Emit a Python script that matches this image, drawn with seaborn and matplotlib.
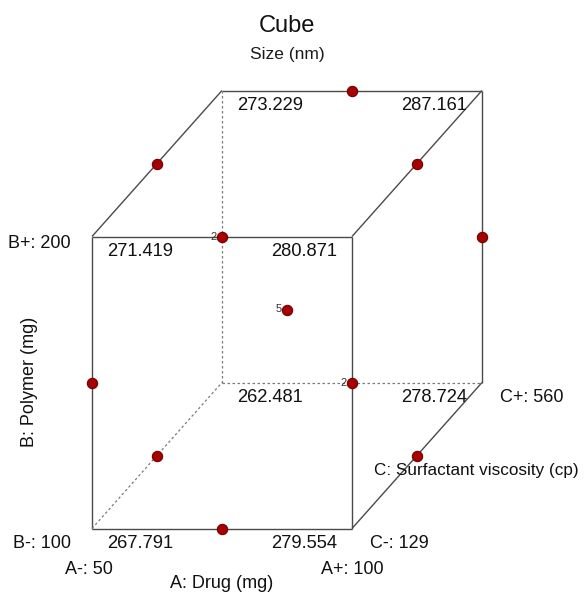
import numpy as np
import pandas as pd
import matplotlib
matplotlib.use("Agg")
import matplotlib.pyplot as plt
import seaborn as sns

# Factor ranges
factor_names = ["A: Drug (mg)", "B: Polymer (mg)", "C: Surfactant viscosity (cp)"]
a_levels = [50, 100]
b_levels = [100, 200]
c_levels = [129, 560]

# Predicted size at the cube corners (coded a, b, c)
corner_a = [-1, 1, -1, 1, -1, 1, -1, 1]
corner_b = [-1, -1, 1, 1, -1, -1, 1, 1]
corner_c = [-1, -1, -1, -1, 1, 1, 1, 1]
corner_size = [267.791, 279.554, 271.419, 280.871, 262.481, 278.724, 273.229, 287.161]

# Box-Behnken design runs (coded), 12 edge midpoints + 5 centre replicates
run_a = [-1, 1, -1, 1, -1, 1, -1, 1, 0, 0, 0, 0, 0, 0, 0, 0, 0]
run_b = [-1, -1, 1, 1, 0, 0, 0, 0, -1, 1, -1, 1, 0, 0, 0, 0, 0]
run_c = [0, 0, 0, 0, -1, -1, 1, 1, -1, -1, 1, 1, 0, 0, 0, 0, 0]

sns.set_theme(style="white")
plt.rcParams["font.family"] = ["Liberation Sans", "DejaVu Sans"]

fig = plt.figure(figsize=(5.87, 5.94), dpi=100)
ax = fig.add_axes([0, 0, 1, 1])
ax.set_xlim(0, 587)
ax.set_ylim(594, 0)
ax.axis("off")

# Oblique projection of coded (a, b, c) onto the page; depth is half the
# face size so edge midpoints line up with the opposite face's edges
CX, CY = 287.0, 309.5
HA, HB = 130.0, 146.0
DX, DY = HA / 2, -HB / 2


def proj(a, b, c):
    return CX + HA * a + DX * c, CY - HB * b + DY * c


edge_col = "#4a4a4a"
hidden_col = "#7a7a7a"

solid_edges = [
    ((-1, -1, -1), (1, -1, -1)), ((1, -1, -1), (1, 1, -1)),
    ((1, 1, -1), (-1, 1, -1)), ((-1, 1, -1), (-1, -1, -1)),
    ((-1, 1, 1), (1, 1, 1)), ((1, 1, 1), (1, -1, 1)),
    ((-1, 1, -1), (-1, 1, 1)), ((1, 1, -1), (1, 1, 1)),
    ((1, -1, -1), (1, -1, 1)),
]
hidden_edges = [
    ((-1, -1, 1), (-1, 1, 1)), ((-1, -1, 1), (1, -1, 1)),
    ((-1, -1, -1), (-1, -1, 1)),
]
for p, q in solid_edges:
    (x0, y0), (x1, y1) = proj(*p), proj(*q)
    ax.plot([x0, x1], [y0, y1], color=edge_col, lw=1.0, solid_capstyle="butt")
for p, q in hidden_edges:
    (x0, y0), (x1, y1) = proj(*p), proj(*q)
    ax.plot([x0, x1], [y0, y1], color=hidden_col, lw=0.9, ls=(0, (2, 2)))

# Corner predictions
for a, b, c, v in zip(corner_a, corner_b, corner_c, corner_size):
    x, y = proj(a, b, c)
    ax.text(x - 48 * a, y + 15, f"{v:.3f}", ha="center", va="center",
            fontsize=13.2, color="#111111")

# Design points, stacked where runs project onto the same spot
runs = pd.DataFrame({"a": run_a, "b": run_b, "c": run_c})
runs["x"], runs["y"] = proj(runs["a"].to_numpy(float), runs["b"].to_numpy(float),
                            runs["c"].to_numpy(float))
runs["px"] = runs["x"].round(1)
runs["py"] = runs["y"].round(1)
sites = runs.groupby(["px", "py"]).size().reset_index(name="n")
sns.scatterplot(data=sites, x="px", y="py", ax=ax, s=55, color="#a80000",
                edgecolor="#700000", linewidth=0.8, legend=False, zorder=5)
for _, r in sites.iterrows():
    if r["n"] > 1:
        ax.text(r["px"] - 5, r["py"], str(int(r["n"])), ha="right", va="center",
                fontsize=8, color="#333333")

# Titles
ax.text(287, 26, "Cube", ha="center", va="center", fontsize=17, color="#111111")
ax.text(287, 55, "Size (nm)", ha="center", va="center", fontsize=12.5, color="#1a1a1a")

# Factor level labels
lab = dict(fontsize=13, color="#111111", va="center")
ax.text(8, 243, f"B+: {b_levels[1]}", ha="left", **lab)
ax.text(13, 543, f"B-: {b_levels[0]}", ha="left", **lab)
ax.text(65, 569, f"A-: {a_levels[0]}", ha="left", **lab)
ax.text(384, 569, f"A+: {a_levels[1]}", ha="right", **lab)
ax.text(370, 543, f"C-: {c_levels[0]}", ha="left", **lab)
ax.text(500, 397, f"C+: {c_levels[1]}", ha="left", **lab)

# Factor names
ax.text(222, 583, factor_names[0], ha="center", **lab)
ax.text(30, 382, factor_names[1], ha="center", rotation=90, **lab)
ax.text(374, 470, factor_names[2], ha="left", fontsize=12.3, color="#111111",
        va="center")

fig.savefig("out.png", dpi=100, facecolor="white")
